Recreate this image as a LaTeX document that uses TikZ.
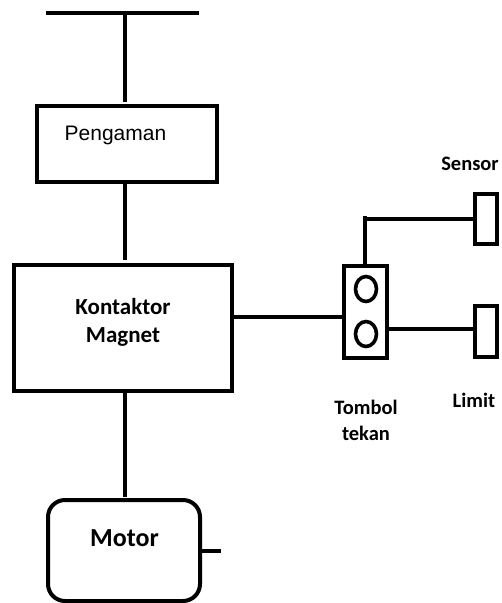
\documentclass[tikz,border=0pt]{standalone}
\usetikzlibrary{shapes.geometric}
\usepackage{fontspec}
\setmainfont{Carlito}
\newfontfamily\arialfont{Liberation Sans}
\tikzset{
  box/.style={draw=black,line width=4pt,fill=white,inner sep=0pt,outer sep=0pt,minimum width=#1},
  wire/.style={draw=black,line width=4pt},
  thinwire/.style={draw=black,line width=3.2pt},
  knob/.style={draw=black,line width=3.6pt,ellipse,minimum width=21pt,minimum height=25pt,inner sep=0pt,outer sep=0pt},
  lab/.style={font=\bfseries\fontsize{23}{28}\selectfont,align=center,inner sep=0pt},
  slab/.style={font=\bfseries\fontsize{20.5}{26}\selectfont,align=center,inner sep=0pt}
}
\begin{document}
\begin{tikzpicture}[x=1pt,y=-1pt]
\useasboundingbox (0,0) rectangle (502,603);
\coordinate (barL) at (46,12.5);
\coordinate (barR) at (199,12.5);
\coordinate (barM) at (124.5,12.5);
\node[box=180pt,minimum height=76.5pt] (peng) at (127,143.75) {};
\node[box=218pt,minimum height=126pt] (kont) at (123,328) {};
\node[box=152pt,minimum height=101pt,rounded corners=17pt] (motor) at (124,550.5) {};
\node[box=43.5pt,minimum height=92pt] (tomb) at (365.25,312) {};
\node[knob] (c1) at (366,289) {};
\node[knob] (c2) at (366,334) {};
\node[box=22pt,minimum height=50.5pt] (sens) at (486,218.75) {};
\node[box=22pt,minimum height=51.5pt] (lim) at (486,331.25) {};
\coordinate (stub) at (221,551);
\coordinate (corner) at (365,219);
\draw[wire] (barL) -- (barR);
\draw[wire] (barM) -- (124.5,102);
\draw[wire] (124.5,184) -- (124.5,260);
\draw[wire] (124.5,391) -- (124.5,497);
\draw[thinwire] (motor.east |- stub) -- (stub);
\draw[thinwire] (kont.east |- 0,317) -- (tomb.west |- 0,317);
\draw[wire] (tomb.north -| corner) -- (365,216);
\draw[wire] (363,219) -- (sens.west |- corner);
\draw[thinwire] (tomb.east |- 0,329) -- (lim.west |- 0,329);
\node[font=\arialfont\fontsize{21}{24}\selectfont,inner sep=0pt] (tp) at (115.5,135.5) {Pengaman};
\node[lab] (tk) at (123,322) {Kontaktor\\Magnet};
\node[lab,font=\bfseries\fontsize{26}{30}\selectfont] (tm) at (124.5,538) {Motor};
\node[slab] (ts) at (470,164) {Sensor};
\node[slab] (tl) at (474,400) {Limit};
\node[slab] (tt) at (366,420) {Tombol\\tekan};
\end{tikzpicture}
\end{document}
